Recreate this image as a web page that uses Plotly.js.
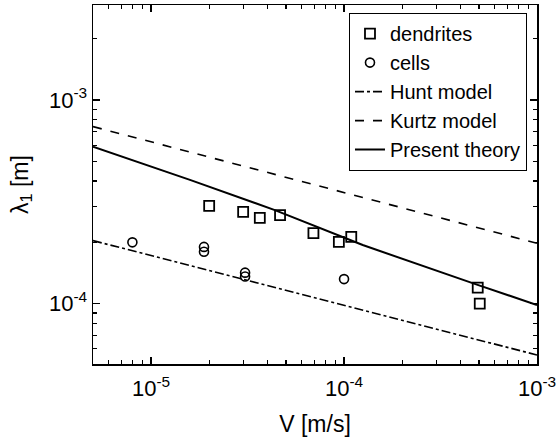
<!DOCTYPE html>
<html>
<head>
<meta charset="utf-8">
<script src="https://cdn.plot.ly/plotly-3.0.1.min.js"></script>
<style>html,body{margin:0;padding:0;background:#fff;}#chart{width:557px;height:437px;}</style>
</head>
<body>
<div id="chart"></div>
<script>
// dendrites
const dendV = [2.0e-5, 3.0e-5, 3.66e-5, 4.66e-5, 6.94e-5, 9.4e-5, 1.09e-4, 4.93e-4, 5.05e-4];
const dendL = [3.02e-4, 2.82e-4, 2.64e-4, 2.72e-4, 2.22e-4, 2.01e-4, 2.13e-4, 1.2e-4, 1.0e-4];
// cells
const cellV = [8.0e-6, 1.88e-5, 1.88e-5, 3.07e-5, 3.07e-5, 1.0e-4];
const cellL = [2.0e-4, 1.9e-4, 1.8e-4, 1.42e-4, 1.36e-4, 1.32e-4];
// model curves
const huntV = [5e-6, 1e-4, 1e-3];
const huntL = [2.04e-4, 9.8e-5, 5.6e-5];
const kurtzV = [5e-6, 1e-4, 1e-3];
const kurtzL = [7.4e-4, 3.5e-4, 1.98e-4];
const presV = [5e-6, 1.59e-5, 4.38e-5, 1.25e-4, 4.88e-4, 1e-3];
const presL = [5.9e-4, 4.05e-4, 2.88e-4, 1.94e-4, 1.24e-4, 9.86e-5];
// ticks
const xTickVals = [1e-5, 1e-4, 1e-3];
const xTickText = ['10<sup>-5</sup>', '10<sup>-4</sup>', '10<sup>-3</sup>'];
const yTickVals = [1e-4, 1e-3];
const yTickText = ['10<sup>-4</sup>', '10<sup>-3</sup>'];

function minorVals(lo, hi) {
  const out = [];
  for (let e = lo; e <= hi; e++) for (let m = 2; m <= 9; m++) out.push(m * Math.pow(10, e));
  return out;
}

const FONT = 'Liberation Sans, Arial, Helvetica, sans-serif';
const traces = [
  {x: dendV, y: dendL, name: 'dendrites', mode: 'markers', type: 'scatter',
   marker: {symbol: 'square-open', size: 10, color: '#000', line: {width: 1.8, color: '#000'}}},
  {x: cellV, y: cellL, name: 'cells', mode: 'markers', type: 'scatter',
   marker: {symbol: 'circle-open', size: 9, color: '#000', line: {width: 1.6, color: '#000'}}},
  {x: huntV, y: huntL, name: 'Hunt model', mode: 'lines', type: 'scatter',
   line: {color: '#000', width: 1.6, dash: 'dashdot'}},
  {x: kurtzV, y: kurtzL, name: 'Kurtz model', mode: 'lines', type: 'scatter',
   line: {color: '#000', width: 1.6, dash: 'dash'}},
  {x: presV, y: presL, name: 'Present theory', mode: 'lines', type: 'scatter',
   line: {color: '#000', width: 2}}
];

const axisCommon = {
  type: 'log', showgrid: false, zeroline: false, showline: true, linecolor: '#000', linewidth: 1.5,
  mirror: 'ticks', ticks: 'inside', ticklen: 7, tickwidth: 1.2, tickcolor: '#000',
  tickfont: {family: FONT, size: 22, color: '#000'}
};

const layout = {
  width: 557, height: 437,
  margin: {l: 93, r: 20, t: 5, b: 73},
  paper_bgcolor: '#fff', plot_bgcolor: '#fff',
  font: {family: FONT, color: '#000'},
  showlegend: true,
  legend: {x: 0.977, y: 0.978, xanchor: 'right', yanchor: 'top',
           bgcolor: '#fff', bordercolor: '#000', borderwidth: 1.2,
           font: {family: FONT, size: 20, color: '#000'}, tracegroupgap: 0},
  xaxis: Object.assign({}, axisCommon, {
    range: [Math.log10(5e-6), -3], tickmode: 'array', tickvals: xTickVals, ticktext: xTickText,
    ticklabelstandoff: 4,
    minor: {tickmode: 'array', tickvals: minorVals(-6, -4), ticks: 'inside', ticklen: 4, tickcolor: '#000', showgrid: false},
    title: {text: 'V [m/s]', font: {family: FONT, size: 23, color: '#000'}, standoff: 20}
  }),
  yaxis: Object.assign({}, axisCommon, {
    range: [-4.296, -2.534], tickmode: 'array', tickvals: yTickVals, ticktext: yTickText,
    minor: {tickmode: 'array', tickvals: minorVals(-5, -3), ticks: 'inside', ticklen: 4, tickcolor: '#000', showgrid: false},
    title: {text: 'λ<sub>1</sub> [m]', font: {family: FONT, size: 23, color: '#000'}, standoff: 14}
  })
};

Plotly.newPlot('chart', traces, layout, {displayModeBar: false, staticPlot: true});
</script>
</body>
</html>
